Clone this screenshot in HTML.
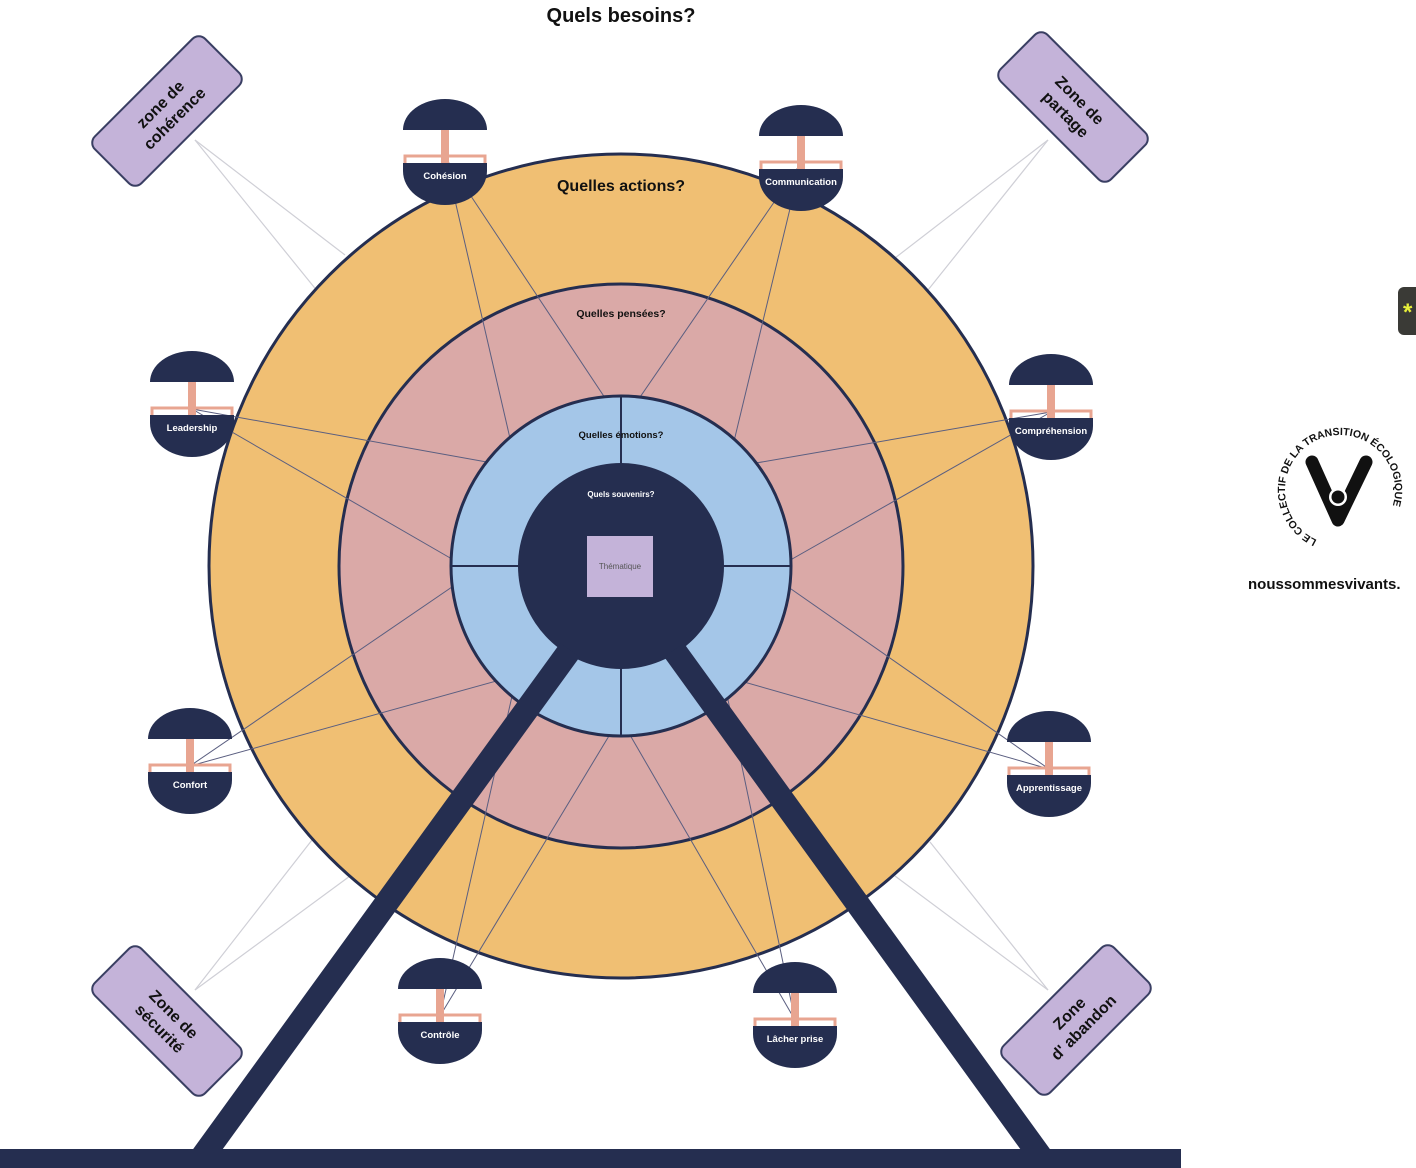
<!DOCTYPE html>
<html><head><meta charset="utf-8"><style>
body{margin:0;background:#fff;}
svg{display:block;font-family:"Liberation Sans",sans-serif;}
</style></head><body>
<svg width="1416" height="1168" viewBox="0 0 1416 1168" xmlns="http://www.w3.org/2000/svg">
<defs>
<g id="gtop">
<path d="M0,31 A42,31 0 0,1 84,31 Z" fill="#252e50"/>
<rect x="38" y="31" width="8" height="34" fill="#e8a591"/>
<path d="M2,65 L2,57 L82,57 L82,65" stroke="#e8a591" stroke-width="3" fill="none"/>
<path d="M0,64 L84,64 L84,72 A42,34 0 0,1 0,72 Z" fill="#252e50"/>
</g>
<path id="lc" d="M1317,540 A55,55 0 1,1 1363,540"/>
</defs>
<text x="621" y="22" text-anchor="middle" font-size="20" font-weight="bold" fill="#111">Quels besoins?</text>
<g stroke="#cfcfd6" stroke-width="1.2">
<line x1="195" y1="140" x2="345" y2="255"/><line x1="195" y1="140" x2="318" y2="292"/>
<line x1="1048" y1="140" x2="895" y2="258"/><line x1="1048" y1="140" x2="928" y2="290"/>
<line x1="195" y1="990" x2="312" y2="840"/><line x1="195" y1="990" x2="350" y2="876"/>
<line x1="1048" y1="990" x2="930" y2="842"/><line x1="1048" y1="990" x2="895" y2="876"/>
</g>
<circle cx="621" cy="566" r="412" fill="#f0bf73" stroke="#252e50" stroke-width="3"/>
<circle cx="621" cy="566" r="282" fill="#daa9a7" stroke="#252e50" stroke-width="3"/>
<g stroke="#5a5e80" stroke-width="1" fill="none">
<line x1="445" y1="157" x2="515" y2="460"/><line x1="445" y1="157" x2="617" y2="416"/>
<line x1="801" y1="163" x2="627" y2="416"/><line x1="801" y1="163" x2="729" y2="462"/>
<line x1="192" y1="409" x2="471" y2="570"/><line x1="192" y1="409" x2="509" y2="466"/>
<line x1="1051" y1="412" x2="733" y2="467"/><line x1="1051" y1="412" x2="771" y2="571"/>
<line x1="190" y1="766" x2="518" y2="675"/><line x1="190" y1="766" x2="471" y2="574"/>
<line x1="1049" y1="769" x2="771" y2="575"/><line x1="1049" y1="769" x2="723" y2="676"/>
<line x1="440" y1="1016" x2="621" y2="716"/><line x1="440" y1="1016" x2="517" y2="674"/>
<line x1="795" y1="1020" x2="723" y2="676"/><line x1="795" y1="1020" x2="619" y2="716"/>
</g>
<circle cx="621" cy="566" r="170" fill="#a4c6e8" stroke="#252e50" stroke-width="3"/>
<g stroke="#252e50" stroke-width="2">
<line x1="621" y1="396" x2="621" y2="736"/><line x1="451" y1="566" x2="791" y2="566"/>
</g>
<circle cx="621" cy="566" r="103" fill="#252e50"/>
<rect x="587" y="536" width="66" height="61" fill="#c4b3d9"/>
<text x="620" y="569" text-anchor="middle" font-size="8" fill="#555">Thématique</text>
<text x="621" y="497" text-anchor="middle" font-size="8" font-weight="bold" fill="#fff">Quels souvenirs?</text>
<text x="621" y="438" text-anchor="middle" font-size="9.5" font-weight="bold" fill="#111">Quelles émotions?</text>
<text x="621" y="317" text-anchor="middle" font-size="10.5" font-weight="bold" fill="#111">Quelles pensées?</text>
<text x="621" y="191" text-anchor="middle" font-size="16" font-weight="bold" fill="#111">Quelles actions?</text>
<line x1="570" y1="650" x2="200" y2="1160" stroke="#252e50" stroke-width="24"/>
<line x1="674" y1="650" x2="1043" y2="1160" stroke="#252e50" stroke-width="24"/>
<rect x="0" y="1149" width="1181" height="19" fill="#252e50"/>
<use href="#gtop" x="403" y="99"/><use href="#gtop" x="759" y="105"/>
<use href="#gtop" x="150" y="351"/><use href="#gtop" x="1009" y="354"/>
<use href="#gtop" x="148" y="708"/><use href="#gtop" x="1007" y="711"/>
<use href="#gtop" x="398" y="958"/><use href="#gtop" x="753" y="962"/>
<g text-anchor="middle" font-size="9.5" font-weight="bold" fill="#fff">
<text x="445" y="179">Cohésion</text><text x="801" y="185">Communication</text>
<text x="192" y="431">Leadership</text><text x="1051" y="434">Compréhension</text>
<text x="190" y="788">Confort</text><text x="1049" y="791">Apprentissage</text>
<text x="440" y="1038">Contrôle</text><text x="795" y="1042">Lâcher prise</text>
</g>
<g font-size="16" font-weight="bold" fill="#111" text-anchor="middle">
<g transform="translate(167,111) rotate(-45)"><rect x="-78" y="-33" width="156" height="66" rx="9" fill="#c4b3d9" stroke="#3a3f63" stroke-width="2"/><text y="-4">zone de</text><text y="16">cohérence</text></g>
<g transform="translate(1073,107) rotate(45)"><rect x="-78" y="-33" width="156" height="66" rx="9" fill="#c4b3d9" stroke="#3a3f63" stroke-width="2"/><text y="-4">Zone de</text><text y="16">partage</text></g>
<g transform="translate(167,1021) rotate(45)"><rect x="-78" y="-33" width="156" height="66" rx="9" fill="#c4b3d9" stroke="#3a3f63" stroke-width="2"/><text y="-4">Zone de</text><text y="16">sécurité</text></g>
<g transform="translate(1076,1020) rotate(-45)"><rect x="-78" y="-33" width="156" height="66" rx="9" fill="#c4b3d9" stroke="#3a3f63" stroke-width="2"/><text y="-4">Zone</text><text y="16">d' abandon</text></g>
</g>
<rect x="1398" y="287" width="30" height="48" rx="6" fill="#3a3a36"/>
<text x="1403" y="320" font-size="24" fill="#e8f03a" font-weight="bold">*</text>
<text font-size="10.5" font-weight="bold" fill="#111"><textPath href="#lc">LE COLLECTIF DE LA TRANSITION ÉCOLOGIQUE</textPath></text>
<path d="M1312,462 L1338,520 L1366,462" stroke="#111" stroke-width="13" fill="none" stroke-linecap="round" stroke-linejoin="round"/>
<circle cx="1338" cy="497" r="9" fill="#fff"/><circle cx="1338" cy="497" r="6.5" fill="#111"/>
<text x="1248" y="589" font-size="15" font-weight="bold" fill="#111">noussommesvivants.</text>
</svg>
</body></html>
